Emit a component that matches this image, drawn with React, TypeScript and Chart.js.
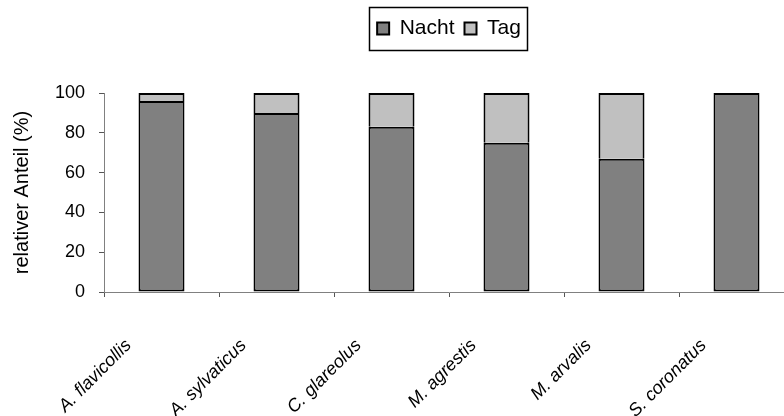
import React, { useEffect, useRef } from "react";
import { Chart, registerables } from "chart.js";

Chart.register(...registerables);

const categories = ["A. flavicollis", "A. sylvaticus", "C. glareolus", "M. agrestis", "M. arvalis", "S. coronatus"];
const nachtValues = [96, 90, 83, 75, 67, 100];
const tagValues = [4, 10, 17, 25, 33, 0];
const seriesNames = ["Nacht", "Tag"];
const yTitle = "relativer Anteil (%)";

const FONT = "'Liberation Sans', Arial, sans-serif";

const legendBorder = {
  id: "legendBorder",
  afterInit(chart: any) {
    const lg = chart.legend;
    if (lg && !lg.__patched) {
      const orig = lg.fit.bind(lg);
      lg.fit = () => {
        orig();
        lg.height += 44;
      };
      lg.__patched = true;
    }
  },
  afterDraw(chart: any) {
    const lg = chart.legend;
    if (!lg || !lg.legendHitBoxes || !lg.legendHitBoxes.length) return;
    const hbs = lg.legendHitBoxes;
    let minX = Infinity, maxX = -Infinity, top = Infinity, bottom = -Infinity;
    for (const h of hbs) {
      minX = Math.min(minX, h.left);
      maxX = Math.max(maxX, h.left + h.width);
      top = Math.min(top, h.top);
      bottom = Math.max(bottom, h.top + h.height);
    }
    const ctx = chart.ctx;
    ctx.save();
    ctx.strokeStyle = "#000";
    ctx.lineWidth = 1.5;
    ctx.strokeRect(Math.round(minX - 8) + 0.5, Math.round(top - 11) + 0.5, Math.round(maxX - minX + 14), Math.round(bottom - top + 22));
    ctx.restore();
  },
};

export default function App() {
  const ref = useRef<HTMLCanvasElement>(null);
  useEffect(() => {
    const chart = new Chart(ref.current as HTMLCanvasElement, {
      type: "bar",
      data: {
        labels: categories,
        datasets: [
          {
            label: seriesNames[0],
            data: nachtValues,
            backgroundColor: "#808080",
            borderColor: "#000",
            borderWidth: 2,
            borderSkipped: false,
            barPercentage: 0.4,
            categoryPercentage: 1,
          },
          {
            label: seriesNames[1],
            data: tagValues,
            backgroundColor: "#c0c0c0",
            borderColor: "#000",
            borderWidth: 2,
            borderSkipped: "start",
            barPercentage: 0.4,
            categoryPercentage: 1,
          },
        ],
      },
      options: {
        responsive: false,
        animation: false,
        layout: { padding: { top: 8, right: 2, left: 0, bottom: 0 } },
        plugins: {
          legend: {
            position: "top",
            fullSize: false,
            labels: {
              boxWidth: 12,
              boxHeight: 12,
              padding: 10,
              color: "#000",
              font: { family: FONT, size: 21 },
            },
          },
          tooltip: { enabled: false },
        },
        scales: {
          x: {
            stacked: true,
            afterFit: (s: any) => {
              s.height = 124;
            },
            grid: {
              offset: true,
              drawOnChartArea: false,
              drawTicks: true,
              tickLength: 5,
              tickColor: "#555",
            },
            border: { display: true, color: "#808080", width: 1 },
            ticks: {
              autoSkip: false,
              minRotation: 45,
              maxRotation: 45,
              labelOffset: -33,
              padding: 38,
              color: "#000",
              font: { family: FONT, size: 18, style: "italic" },
            },
          },
          y: {
            stacked: true,
            min: 0,
            max: 100,
            afterFit: (s: any) => {
              s.width = 104;
            },
            grid: {
              drawOnChartArea: false,
              drawTicks: true,
              tickLength: 5,
              tickColor: "#555",
            },
            border: { display: true, color: "#808080", width: 1 },
            ticks: {
              stepSize: 20,
              padding: 14,
              color: "#000",
              font: { family: FONT, size: 18 },
            },
            title: {
              display: true,
              text: yTitle,
              color: "#000",
              padding: { top: 10, bottom: 0 },
              font: { family: FONT, size: 20 },
            },
          },
        },
      },
      plugins: [legendBorder],
    });
    return () => chart.destroy();
  }, []);
  return (
    <div style={{ position: "fixed", left: 0, top: 0, width: 784, height: 416, overflow: "hidden", background: "#fff" }}>
      <canvas ref={ref} width={796} height={416} style={{ display: "block" }} />
    </div>
  );
}
